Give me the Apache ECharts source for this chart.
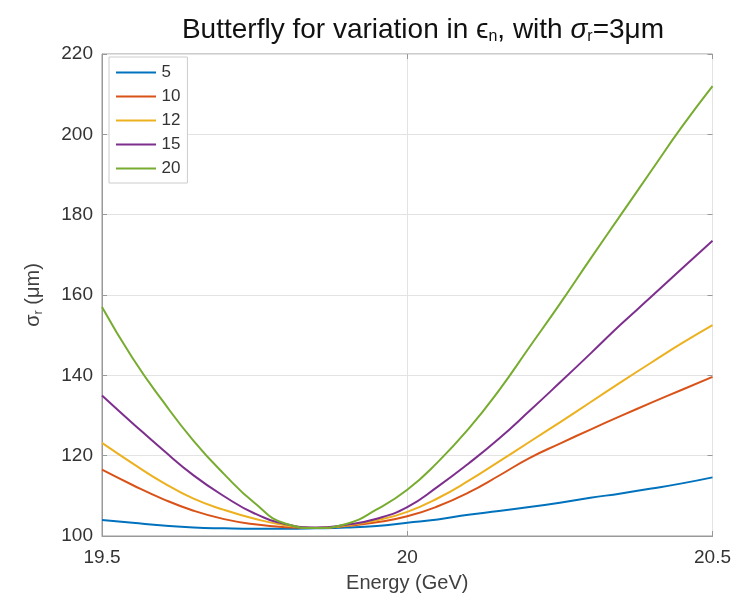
<!DOCTYPE html>
<html>
<head>
<meta charset="utf-8">
<script src="https://cdn.jsdelivr.net/npm/echarts@6/dist/echarts.min.js"></script>
<style>
  html, body { margin: 0; padding: 0; background: #fff; }
  #main { width: 734px; height: 601px; }
</style>
</head>
<body>
<div id="main"></div>
<script>
var energy = [19.50, 19.55, 19.60, 19.65, 19.70, 19.75, 19.80, 19.85, 19.90, 19.95, 20.00,
              20.05, 20.10, 20.15, 20.20, 20.25, 20.30, 20.35, 20.40, 20.45, 20.50];
var names = ['5', '10', '12', '15', '20'];
var s5  = [104.0, 103.3, 102.6, 102.1, 101.9, 101.8, 101.8, 101.9, 102.1, 102.5, 103.3,
           104.1, 105.3, 106.2, 107.2, 108.3, 109.5, 110.6, 111.8, 113.1, 114.6];
var s10 = [116.5, 112.7, 109.2, 106.3, 104.2, 102.9, 102.2, 102.0, 102.5, 103.4, 104.9,
           107.4, 110.8, 115.0, 119.4, 123.0, 126.5, 129.9, 133.2, 136.4, 139.6];
var s12 = [123.2, 118.1, 113.3, 109.3, 106.5, 104.3, 102.7, 102.0, 102.6, 103.9, 106.0,
           109.4, 113.7, 118.5, 123.4, 128.3, 133.3, 138.3, 143.2, 148.0, 152.5];
var s15 = [135.0, 128.1, 121.4, 115.1, 109.9, 105.6, 103.0, 102.1, 102.8, 104.3, 107.2,
           112.3, 118.0, 124.2, 131.1, 138.2, 145.4, 152.7, 159.6, 166.6, 173.5];
var s20 = [157.0, 144.3, 133.5, 123.7, 115.4, 108.2, 103.1, 102.0, 103.0, 106.6, 111.5,
           118.4, 126.6, 136.2, 147.0, 157.8, 169.0, 180.0, 191.0, 201.9, 212.0];
var colors = ['#0072BD', '#D95319', '#EDB120', '#7E2F8E', '#77AC30'];

var font = 'Liberation Sans, Arial, sans-serif';
var myChart = echarts.init(document.getElementById('main'));

function pairs(ys) {
    return energy.map(function (e, i) { return [e, ys[i]]; });
}

var allSeries = [s5, s10, s12, s15, s20].map(function (ys, i) {
    return {
        name: names[i],
        type: 'line',
        smooth: true,
        symbol: 'none',
        lineStyle: { width: 2, color: colors[i] },
        itemStyle: { color: colors[i] },
        data: pairs(ys)
    };
});

var option = {
    animation: false,
    color: colors,
    title: {
        text: '{a|Butterfly for variation in ϵ}{s|n}{a|, with }{i|σ}{s|r}{a|=3μm}',
        left: 418,
        textAlign: 'center',
        top: 11,
        textStyle: {
            rich: {
                a: { fontFamily: font, fontSize: 28, fontWeight: 'normal', color: '#111' },
                i: { fontFamily: font, fontSize: 28, fontWeight: 'normal', color: '#111', fontStyle: 'italic' },
                s: { fontFamily: font, fontSize: 16, fontWeight: 'normal', color: '#111', padding: [13, 0, 0, 0] }
            }
        }
    },
    legend: {
        orient: 'vertical',
        left: 109,
        top: 57,
        data: names,
        icon: 'path://M0,0 L40,0 L40,2 L0,2 Z',
        itemWidth: 41,
        itemHeight: 2,
        itemGap: 7,
        padding: [7, 7, 6, 7],
        borderColor: '#cccccc',
        borderWidth: 1,
        backgroundColor: '#fff',
        textStyle: { fontFamily: font, fontSize: 17, lineHeight: 16, color: '#333' }
    },
    grid: {
        left: 102, right: 21, top: 54, bottom: 65,
        show: true,
        borderColor: '#999',
        borderWidth: 1
    },
    xAxis: [{
        type: 'value',
        min: 19.5, max: 20.5, interval: 0.5,
        name: 'Energy (GeV)',
        nameLocation: 'middle',
        nameGap: 37,
        nameTextStyle: { fontFamily: font, fontSize: 20, color: '#404040' },
        axisLine: { lineStyle: { color: '#999' } },
        axisTick: { inside: true, length: 5, lineStyle: { color: '#999' } },
        axisLabel: { fontFamily: font, fontSize: 19, color: '#333', margin: 12 },
        splitLine: { show: true, lineStyle: { color: '#e3e3e3' } }
    }, {
        type: 'value',
        position: 'top',
        min: 19.5, max: 20.5, interval: 0.5,
        axisLine: { show: false },
        axisTick: { inside: true, length: 5, lineStyle: { color: '#999' } },
        axisLabel: { show: false },
        splitLine: { show: false }
    }],
    yAxis: [{
        type: 'value',
        min: 100, max: 220, interval: 20,
        name: '{a|σ}{s|r}{a| (μm)}',
        nameLocation: 'middle',
        nameGap: 57,
        nameTextStyle: {
            rich: {
                a: { fontFamily: font, fontSize: 20, color: '#404040' },
                s: { fontFamily: font, fontSize: 13, color: '#404040', padding: [10, 0, 0, 0] }
            }
        },
        axisLine: { show: true, lineStyle: { color: '#999' } },
        axisTick: { show: true, inside: true, length: 5, lineStyle: { color: '#999' } },
        axisLabel: { fontFamily: font, fontSize: 19, color: '#333', margin: 9 },
        splitLine: { show: true, lineStyle: { color: '#e3e3e3' } }
    }, {
        type: 'value',
        position: 'right',
        min: 100, max: 220, interval: 20,
        axisLine: { show: false },
        axisTick: { show: true, inside: true, length: 5, lineStyle: { color: '#999' } },
        axisLabel: { show: false },
        splitLine: { show: false }
    }],
    series: allSeries
};
myChart.setOption(option);
</script>
</body>
</html>
